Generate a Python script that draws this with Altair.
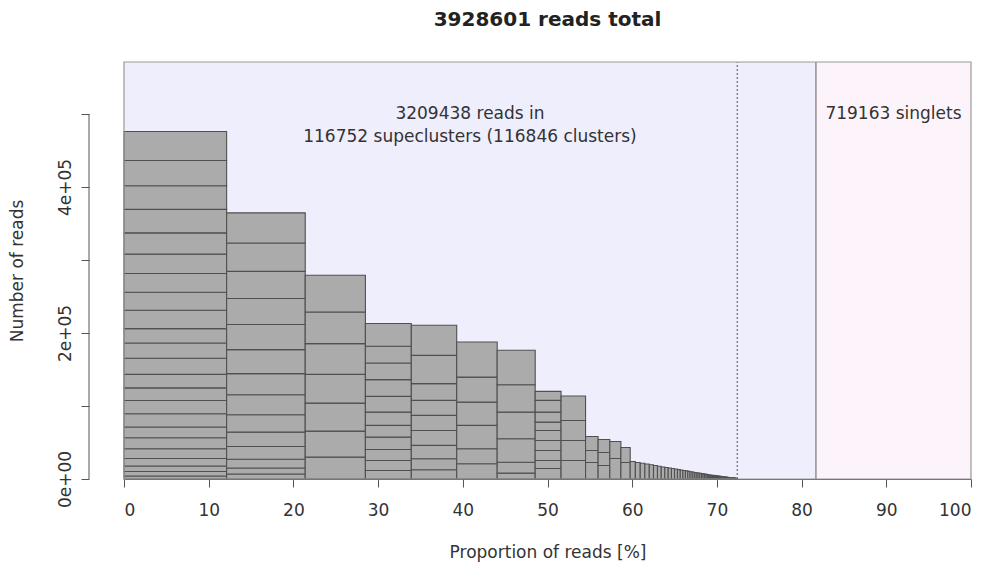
import altair as alt
import pandas as pd

# ---------------- data ----------------
total_reads = 3928601
clustered_reads = 3209438
singlet_reads = 719163
n_superclusters = 116752
n_clusters = 116846
threshold_pct = 72.4          # dotted line position (%)
chart_title = f"{total_reads} reads total"

# reads of the clusters inside each of the largest superclusters (top -> bottom of the bar)
top_superclusters = [
    [39800, 34600, 32300, 32100, 29200, 26500, 25700, 24600, 25200, 19700, 21000, 22000,
     18500, 17200, 18200, 18100, 14800, 15100, 13300, 10300, 7500, 6200, 4100],
    [41300, 38900, 37200, 35500, 34500, 32900, 28800, 27400, 23900, 19600, 17600, 11900, 8200, 6900],
    [50300, 43300, 42200, 39300, 38400, 35700, 29900],
    [31100, 23000, 22700, 22900, 21600, 18200, 16100, 16800, 15100, 13700, 11700],
    [41200, 38800, 22900, 20600, 20600, 20500, 18300, 15100, 12600],
    [48100, 34300, 31900, 32000, 20500, 20900],
    [47100, 37600, 36500, 32100, 15000, 8000],
    [12300, 16100, 13700, 11400, 13700, 13700, 13700, 11000, 14400],
    [33400, 27400, 27400, 25400],
    [19200, 16500, 22600],
    [17800, 17900, 18500],
    [23300, 28100],
    [20600, 22600],
]

# reads of the smaller superclusters (single cluster each)
tail_superclusters = [
    24000, 22500, 21500, 20500, 19500, 18500, 17500, 16500, 15800, 15000,
    14300, 13600, 12900, 12300, 11700, 11100, 10500, 10000, 9500, 9000,
    8600, 8200, 7800, 7400, 7000, 6700, 6400, 6100, 5800, 5500,
    5200, 5000, 4900, 4800, 4600, 4400, 4200, 4000, 3800, 3700, 3600, 3450,
    3300, 3150, 3000, 2850, 2700, 2600, 2500, 2400, 2300, 2200,
    2100, 2000, 1950, 1900, 1850, 1800, 1750, 1700, 1650, 1600,
    1550, 1500, 1450, 1400, 1350, 1300, 1250, 1200, 1150, 1100,
    1050, 1000, 950, 900, 850, 800, 750, 700, 650, 600,
    550, 500, 450, 400, 350, 300,
]

x_ticks = [0, 10, 20, 30, 40, 50, 60, 70, 80, 90, 100]
y_ticks = [0, 100000, 200000, 300000, 400000, 500000]
y_labels = {0: "0e+00", 200000: "2e+05", 400000: "4e+05"}

# ---------------- build tables ----------------
all_sc = top_superclusters + [[v] for v in tail_superclusters]
largest = max(sum(s) for s in all_sc)
ymax = largest * 1.2
text_y = largest * 1.05
clustered_pct = clustered_reads / total_reads * 100

rows = []
cum = 0
for i, segs in enumerate(all_sc):
    sc_total = sum(segs)
    x0 = cum / total_reads * 100
    x1 = (cum + sc_total) / total_reads * 100
    base = 0
    for s in reversed(segs):
        rows.append(dict(sc=i, x0=x0, x1=x1, y0=base, y1=base + s))
        base += s
    cum += sc_total
bars = pd.DataFrame(rows)

regions = pd.DataFrame([
    dict(x0=0, x1=threshold_pct, y0=0, y1=ymax, part="clusters"),
    dict(x0=threshold_pct, x1=clustered_pct, y0=0, y1=ymax, part="small"),
    dict(x0=clustered_pct, x1=100, y0=0, y1=ymax, part="singlets"),
])

FONT = "DejaVu Sans"
W, H = 847, 417
xs = alt.Scale(domain=[0, 100], nice=False, zero=False)
ys = alt.Scale(domain=[0, ymax], nice=False)

label_expr = " : ".join(
    [f"datum.value == {k} ? '{v}'" for k, v in y_labels.items()]) + " : ''"

bg = alt.Chart(regions).mark_rect(strokeWidth=0).encode(
    x=alt.X("x0:Q", scale=xs, axis=alt.Axis(
        values=x_ticks, title="Proportion of reads [%]", grid=False,
        tickSize=8, labelPadding=15, titlePadding=26,
        domainColor="#555", tickColor="#555")),
    x2="x1:Q",
    y=alt.Y("y0:Q", scale=ys, axis=alt.Axis(
        values=y_ticks, labelExpr=label_expr, title="Number of reads",
        grid=False, domain=False, offset=35, tickSize=8, tickColor="#555",
        labelAngle=-90, labelAlign="center", labelBaseline="bottom",
        labelPadding=7, titlePadding=30)),
    y2="y1:Q",
    color=alt.Color("part:N", scale=alt.Scale(
        domain=["clusters", "small", "singlets"],
        range=["#EEEEFD", "#EEEEFD", "#FDF3FA"]), legend=None),
)

bar_layer = alt.Chart(bars).mark_rect(
    fill="#ABABAB", stroke="#505050", strokeWidth=1.1
).encode(x="x0:Q", x2="x1:Q", y="y0:Q", y2="y1:Q")

dotted = alt.Chart(pd.DataFrame([dict(x=threshold_pct, y0=0, y1=ymax)])).mark_rule(
    color="#555", strokeDash=[2, 2], strokeWidth=1).encode(x="x:Q", y="y0:Q", y2="y1:Q")
solid = alt.Chart(pd.DataFrame([dict(x=clustered_pct, y0=0, y1=ymax)])).mark_rule(
    color="#777", strokeWidth=1.2).encode(x="x:Q", y="y0:Q", y2="y1:Q")

yaxis_line = alt.Chart(pd.DataFrame([dict(y0=y_ticks[0], y1=y_ticks[-1])])).mark_rule(
    color="#555").encode(x=alt.value(-35), y="y0:Q", y2="y1:Q")

frame = alt.Chart(pd.DataFrame([dict(x0=0, x1=100, y0=0, y1=ymax)])).mark_rect(
    fill=None, stroke="#999", strokeWidth=1.2).encode(x="x0:Q", x2="x1:Q", y="y0:Q", y2="y1:Q")

annot = pd.DataFrame([
    dict(x=clustered_pct / 2, y=text_y,
         t=[f"{clustered_reads} reads in",
            f"{n_superclusters} supeclusters ({n_clusters} clusters)"]),
    dict(x=(clustered_pct + 100) / 2, y=text_y, t=[f"{singlet_reads} singlets"]),
])
texts = alt.Chart(annot).mark_text(
    font=FONT, fontSize=17, color="#333", lineHeight=23, baseline="middle"
).encode(x="x:Q", y="y:Q", text="t")

title_mark = alt.Chart(pd.DataFrame([dict(x=50, t=chart_title)])).mark_text(
    font=FONT, fontSize=20, fontWeight="bold", color="#222", baseline="middle"
).encode(x="x:Q", y=alt.value(-42), text="t:N")

chart = alt.layer(bg, bar_layer, dotted, solid, yaxis_line, frame, texts, title_mark).properties(
    width=W, height=H,
    autosize=alt.AutoSizeParams(type="none"),
    padding={"left": 116, "top": 54, "right": 11, "bottom": 84},
).configure_view(stroke=None).configure_axis(
    labelFont=FONT, titleFont=FONT, labelFontSize=17, titleFontSize=17,
    labelColor="#333", titleColor="#333", titleFontWeight="normal",
)

chart.save("out.html", embed_options={"renderer": "svg", "actions": False})
